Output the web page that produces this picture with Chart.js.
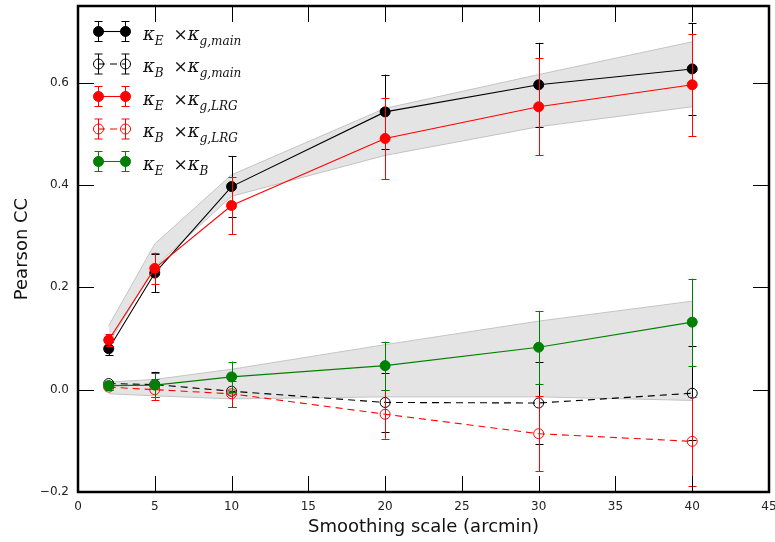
<!DOCTYPE html>
<html lang="en">
<head>
<meta charset="UTF-8">
<title>Pearson CC vs smoothing scale</title>
<script src="https://cdn.jsdelivr.net/npm/chart.js"></script>
<style>
  html, body { margin: 0; padding: 0; background: #fff; }
  .chart-container { width: 775px; height: 542px; }
</style>
</head>
<body>
<div class="chart-container"><canvas id="ccChart"></canvas></div>
<script>
// smoothing scales (arcmin)
const scales = [2, 5, 10, 20, 30, 40];
const xTicks = [0, 5, 10, 15, 20, 25, 30, 35, 40, 45];
const yTicks = [-0.2, 0.0, 0.2, 0.4, 0.6];

// kE x kg,main
const eMain    = [0.080, 0.228, 0.397, 0.543, 0.596, 0.627];
const eMainErr = [0.013, 0.037, 0.060, 0.073, 0.082, 0.090];
// kB x kg,main
const bMain    = [0.012, 0.010, -0.003, -0.025, -0.026, -0.007];
const bMainErr = [0.005, 0.025, 0.031, 0.058, 0.080, 0.092];
// kE x kg,LRG
const eLrg     = [0.097, 0.237, 0.360, 0.491, 0.553, 0.596];
const eLrgErr  = [0.012, 0.031, 0.056, 0.080, 0.095, 0.100];
// kB x kg,LRG
const bLrg     = [0.005, 0.000, -0.008, -0.048, -0.086, -0.101];
const bLrgErr  = [0.005, 0.020, 0.025, 0.048, 0.073, 0.087];
// kE x kB
const eB       = [0.008, 0.009, 0.025, 0.047, 0.083, 0.132];
const eBErr    = [0.008, 0.024, 0.030, 0.047, 0.071, 0.085];

// grey bands
const bandHighLo = [0.090, 0.240, 0.378, 0.458, 0.514, 0.553];
const bandHighHi = [0.125, 0.285, 0.420, 0.550, 0.616, 0.680];
const bandLowLo  = [-0.008, -0.012, -0.018, -0.014, -0.014, -0.021];
const bandLowHi  = [0.015, 0.020, 0.040, 0.088, 0.134, 0.173];

const pts = ys => scales.map((x, i) => ({ x: x, y: ys[i] }));

function series(label, ys, errs, color, open, dashed, order) {
    return {
        label: label, data: pts(ys), errors: errs, errColor: color,
        borderColor: color, backgroundColor: open ? 'rgba(0,0,0,0)' : color,
        pointBorderColor: color, pointBackgroundColor: open ? 'rgba(0,0,0,0)' : color,
        borderWidth: 1.1, pointBorderWidth: 1, pointRadius: 5,
        borderDash: dashed ? [7, 5] : [], fill: false, order: order
    };
}
function bandEdge(ys, fill, order) {
    return {
        data: pts(ys), borderColor: '#c4c4c4', borderWidth: 1, pointRadius: 0,
        backgroundColor: 'rgba(190,190,190,0.42)', fill: fill, order: order
    };
}

const legendItems = [
    { color: 'black', open: false, dashed: false, parts: [['κ', 'E'], ['×κ', 'g,main']] },
    { color: 'black', open: true,  dashed: true,  parts: [['κ', 'B'], ['×κ', 'g,main']] },
    { color: 'red',   open: false, dashed: false, parts: [['κ', 'E'], ['×κ', 'g,LRG']] },
    { color: 'red',   open: true,  dashed: true,  parts: [['κ', 'B'], ['×κ', 'g,LRG']] },
    { color: 'green', open: false, dashed: false, parts: [['κ', 'E'], ['×κ', 'B']] }
];

// error bars drawn just before each dataset
const errorBars = {
    id: 'errorBars',
    beforeDatasetDraw(chart, args) {
        const ds = chart.data.datasets[args.index];
        if (!ds.errors) return;
        const y = chart.scales.y, ctx = chart.ctx;
        const meta = chart.getDatasetMeta(args.index);
        ctx.save();
        ctx.strokeStyle = ds.errColor;
        ctx.lineWidth = 1;
        ctx.setLineDash([]);
        meta.data.forEach((p, i) => {
            const v = ds.data[i].y, e = ds.errors[i];
            const top = y.getPixelForValue(v + e), bot = y.getPixelForValue(v - e);
            const x = Math.round(p.x) + 0.5;
            ctx.beginPath();
            ctx.moveTo(x, top); ctx.lineTo(x, bot);
            ctx.moveTo(x - 4, Math.round(top) + 0.5); ctx.lineTo(x + 4, Math.round(top) + 0.5);
            ctx.moveTo(x - 4, Math.round(bot) + 0.5); ctx.lineTo(x + 4, Math.round(bot) + 0.5);
            ctx.stroke();
        });
        ctx.restore();
    }
};

function drawLabel(ctx, x, y, parts) {
    parts.forEach((p, k) => {
        if (k > 0) x += 10;
        const main = p[0];
        if (main.startsWith('×')) {
            ctx.font = '17px "DejaVu Serif"';
            ctx.fillText('×', x, y);
            x += ctx.measureText('×').width;
            ctx.font = 'italic 18px "DejaVu Serif"';
            ctx.fillText('κ', x, y);
            x += ctx.measureText('κ').width;
        } else {
            ctx.font = 'italic 18px "DejaVu Serif"';
            ctx.fillText(main, x, y);
            x += ctx.measureText(main).width;
        }
        ctx.font = 'italic 12px "DejaVu Serif"';
        ctx.fillText(p[1], x, y + 5);
        x += ctx.measureText(p[1]).width;
    });
}

// matplotlib-like legend, frame and inward ticks
const decorations = {
    id: 'decorations',
    afterDatasetsDraw(chart) {
        const ctx = chart.ctx, a = chart.chartArea;
        const xs = chart.scales.x, ys = chart.scales.y;
        ctx.save();
        ctx.strokeStyle = 'black';
        ctx.lineWidth = 1;
        ctx.beginPath();
        xTicks.forEach(t => {
            const px = Math.round(xs.getPixelForValue(t)) + 0.5;
            ctx.moveTo(px, a.bottom); ctx.lineTo(px, a.bottom - 16);
            ctx.moveTo(px, a.top); ctx.lineTo(px, a.top + 16);
        });
        yTicks.forEach(t => {
            const py = Math.round(ys.getPixelForValue(t)) + 0.5;
            ctx.moveTo(a.left, py); ctx.lineTo(a.left + 16, py);
            ctx.moveTo(a.right, py); ctx.lineTo(a.right - 16, py);
        });
        ctx.stroke();

        // legend
        legendItems.forEach((it, k) => {
            const cy = 31.5 + k * 32.5;
            const x1 = 98, x2 = 125;
            ctx.strokeStyle = it.color;
            ctx.lineWidth = 1.1;
            ctx.setLineDash(it.dashed ? [7, 5] : []);
            ctx.beginPath(); ctx.moveTo(x1, cy); ctx.lineTo(x2, cy); ctx.stroke();
            ctx.setLineDash([]);
            ctx.lineWidth = 1;
            [x1, x2].forEach(mx => {
                ctx.beginPath();
                ctx.moveTo(mx + 0.5, cy - 10); ctx.lineTo(mx + 0.5, cy + 10);
                ctx.moveTo(mx - 3.5, cy - 10); ctx.lineTo(mx + 4.5, cy - 10);
                ctx.moveTo(mx - 3.5, cy + 10); ctx.lineTo(mx + 4.5, cy + 10);
                ctx.stroke();
                ctx.beginPath();
                ctx.arc(mx + 0.5, cy, 5, 0, Math.PI * 2);
                if (it.open) { ctx.stroke(); }
                else { ctx.fillStyle = it.color; ctx.fill(); ctx.stroke(); }
            });
            ctx.fillStyle = '#111';
            ctx.textBaseline = 'alphabetic';
            drawLabel(ctx, 143, cy + 8, it.parts);
        });

        // frame
        ctx.strokeStyle = 'black';
        ctx.lineWidth = 2.5;
        ctx.strokeRect(a.left, a.top, a.right - a.left, a.bottom - a.top);
        ctx.restore();
    }
};

new Chart(document.getElementById('ccChart').getContext('2d'), {
    type: 'line',
    data: {
        datasets: [
            series('kE x kg,main', eMain, eMainErr, 'black', false, false, 5),
            series('kB x kg,main', bMain, bMainErr, 'black', true, true, 4),
            series('kE x kg,LRG', eLrg, eLrgErr, 'red', false, false, 3),
            series('kB x kg,LRG', bLrg, bLrgErr, 'red', true, true, 2),
            series('kE x kB', eB, eBErr, 'green', false, false, 1),
            bandEdge(bandHighLo, false, 10),
            bandEdge(bandHighHi, '-1', 9),
            bandEdge(bandLowLo, false, 10),
            bandEdge(bandLowHi, '-1', 9)
        ]
    },
    options: {
        responsive: true,
        maintainAspectRatio: false,
        animation: false,
        layout: { padding: { top: 5, right: 4, left: 0, bottom: 0 } },
        plugins: { legend: { display: false }, tooltip: { enabled: false } },
        scales: {
            x: {
                type: 'linear', min: 0, max: 45,
                afterBuildTicks: s => { s.ticks = xTicks.map(v => ({ value: v })); },
                afterFit: s => { s.height = 50; s.paddingLeft = 0; s.paddingRight = 0; },
                grid: { display: false, drawTicks: false },
                border: { display: false },
                ticks: { padding: 8, color: '#222', font: { family: 'DejaVu Sans', size: 12 }, maxRotation: 0 },
                title: { display: true, text: 'Smoothing scale (arcmin)', color: '#111',
                         font: { family: 'DejaVu Sans', size: 18 }, padding: { top: 0, bottom: 4 } }
            },
            y: {
                type: 'linear', min: -0.2, max: 0.75,
                afterBuildTicks: s => { s.ticks = yTicks.map(v => ({ value: v })); },
                afterFit: s => { s.width = 78; s.paddingTop = 0; s.paddingBottom = 0; },
                grid: { display: false, drawTicks: false },
                border: { display: false },
                ticks: { padding: 9, color: '#222', font: { family: 'DejaVu Sans', size: 12 },
                         callback: v => (v < 0 ? '\u2212' : '') + Math.abs(v).toFixed(1) },
                title: { display: true, text: 'Pearson CC', color: '#111',
                         font: { family: 'DejaVu Sans', size: 18 }, padding: { top: 12, bottom: 0 } }
            }
        }
    },
    plugins: [errorBars, decorations]
});
</script>
</body>
</html>
